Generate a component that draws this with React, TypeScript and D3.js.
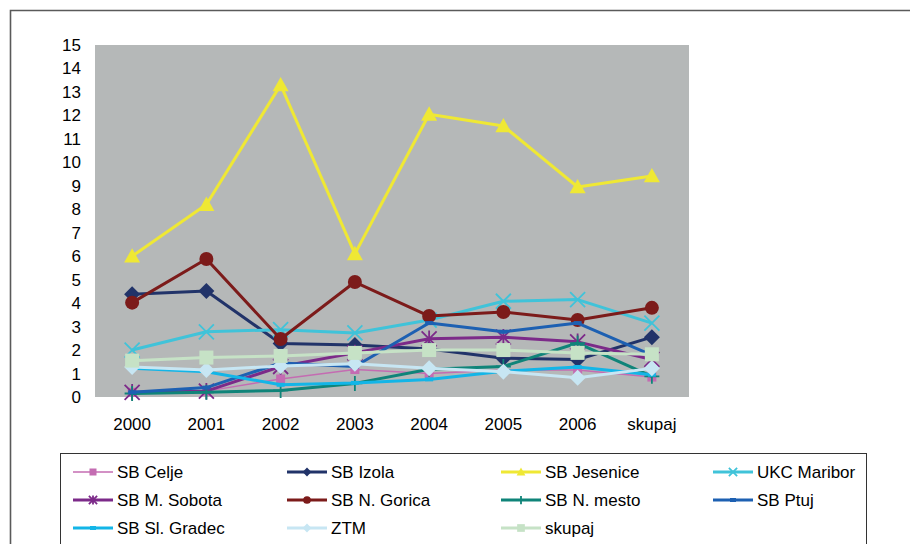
import React from "react";
import * as d3 from "d3";

const years = ["2000", "2001", "2002", "2003", "2004", "2005", "2006", "skupaj"];
const yTicks = d3.range(0, 16);

const celje = [0.2, 0.25, 0.77, 1.17, 1.0, 1.15, 1.15, 0.85];
const izola = [4.38, 4.52, 2.28, 2.22, 2.05, 1.65, 1.6, 2.55];
const jesenice = [6.0, 8.2, 13.3, 6.1, 12.05, 11.55, 8.95, 9.42];
const maribor = [2.0, 2.78, 2.87, 2.73, 3.28, 4.08, 4.15, 3.15];
const sobota = [0.2, 0.25, 1.3, 1.88, 2.48, 2.55, 2.35, 1.6];
const gorica = [4.02, 5.88, 2.47, 4.9, 3.45, 3.62, 3.28, 3.8];
const mesto = [0.15, 0.2, 0.28, 0.58, 1.18, 1.3, 2.3, 0.88];
const ptuj = [0.2, 0.4, 1.45, 1.3, 3.15, 2.78, 3.15, 1.78];
const gradec = [1.22, 1.08, 0.52, 0.6, 0.75, 1.1, 1.28, 0.95];
const ztm = [1.28, 1.15, 1.32, 1.42, 1.23, 1.08, 0.82, 1.22];
const skupaj = [1.55, 1.68, 1.75, 1.88, 2.0, 2.0, 1.88, 1.82];

type Marker = "square" | "diamond" | "triangle" | "x" | "asterisk" | "circle" | "plus" | "dash";
interface Series {
  name: string;
  values: number[];
  color: string;
  marker: Marker;
  width: number;
  size: number;
}

const series: Series[] = [
  { name: "SB Celje", values: celje, color: "#c46cb2", marker: "square", width: 1.5, size: 4.5 },
  { name: "SB Izola", values: izola, color: "#213369", marker: "diamond", width: 3, size: 8 },
  { name: "SB Jesenice", values: jesenice, color: "#efe834", marker: "triangle", width: 3, size: 8 },
  { name: "UKC Maribor", values: maribor, color: "#40c3d9", marker: "x", width: 3, size: 7.5 },
  { name: "SB M. Sobota", values: sobota, color: "#7c2a89", marker: "asterisk", width: 3, size: 7.5 },
  { name: "SB N. Gorica", values: gorica, color: "#7c1b1a", marker: "circle", width: 3, size: 7 },
  { name: "SB N. mesto", values: mesto, color: "#0f8479", marker: "plus", width: 3, size: 7.5 },
  { name: "SB Ptuj", values: ptuj, color: "#1d60b2", marker: "dash", width: 3, size: 4 },
  { name: "SB Sl. Gradec", values: gradec, color: "#13b5e7", marker: "dash", width: 3, size: 4 },
  { name: "ZTM", values: ztm, color: "#c7e6f3", marker: "diamond", width: 3, size: 8 },
  { name: "skupaj", values: skupaj, color: "#c6e2c6", marker: "square", width: 3, size: 7 },
];

const FONT = "'Liberation Sans', Arial, sans-serif";

const plot = { left: 95, right: 689, top: 45, bottom: 397 };

function MarkerShape({ type, x, y, s, color }: { type: Marker; x: number; y: number; s: number; color: string }) {
  switch (type) {
    case "square":
      return <rect x={x - s} y={y - s} width={2 * s} height={2 * s} fill={color} />;
    case "diamond":
      return <path d={`M${x},${y - s}L${x + s},${y}L${x},${y + s}L${x - s},${y}Z`} fill={color} />;
    case "triangle":
      return <path d={`M${x},${y - s}L${x + s},${y + s * 0.8}L${x - s},${y + s * 0.8}Z`} fill={color} />;
    case "circle":
      return <circle cx={x} cy={y} r={s} fill={color} />;
    case "x":
      return (
        <path d={`M${x - s},${y - s}L${x + s},${y + s}M${x - s},${y + s}L${x + s},${y - s}`} stroke={color} strokeWidth={1.8} />
      );
    case "asterisk":
      return (
        <path
          d={`M${x - s},${y - s}L${x + s},${y + s}M${x - s},${y + s}L${x + s},${y - s}M${x},${y - s * 1.1}L${x},${y + s * 1.1}`}
          stroke={color}
          strokeWidth={1.8}
        />
      );
    case "plus":
      return <path d={`M${x},${y - s}L${x},${y + s}M${x - s},${y}L${x + s},${y}`} stroke={color} strokeWidth={1.8} />;
    case "dash":
      return <path d={`M${x - s},${y}L${x + s},${y}`} stroke={color} strokeWidth={4} />;
  }
}

export default function App() {
  const x = d3.scalePoint<string>().domain(years).range([plot.left, plot.right]).padding(0.5);
  const y = d3.scaleLinear().domain([0, 15]).range([plot.bottom, plot.top]);
  const line = d3
    .line<number>()
    .x((_, i) => x(years[i]) as number)
    .y((v) => y(v));

  const legendCols = [73, 287, 501, 713];
  const legendRows = [472, 500, 528];

  return (
    <svg
      width={910}
      height={544}
      style={{ position: "absolute", left: 0, top: 0, background: "#fff" }}
      fontFamily={FONT}
    >
      {/* outer frame */}
      <path d="M10.5,544V10.5H912" fill="none" stroke="#5a5a5a" strokeWidth={1.6} />

      {/* plot area */}
      <rect x={plot.left} y={plot.top} width={plot.right - plot.left} height={plot.bottom - plot.top} fill="#b5b8b8" />

      {/* y axis labels */}
      {yTicks.map((t) => (
        <text key={t} x={81} y={y(t) + 6} textAnchor="end" fontSize={17} fill="#000">
          {t}
        </text>
      ))}

      {/* x axis labels */}
      {years.map((yr) => (
        <text key={yr} x={x(yr)} y={430} textAnchor="middle" fontSize={17} fill="#000">
          {yr}
        </text>
      ))}

      {/* series */}
      {series.map((s) => (
        <g key={s.name}>
          <path d={line(s.values) as string} fill="none" stroke={s.color} strokeWidth={s.width} strokeLinejoin="round" />
          {s.values.map((v, i) => (
            <MarkerShape key={i} type={s.marker} x={x(years[i]) as number} y={y(v)} s={s.size} color={s.color} />
          ))}
        </g>
      ))}

      {/* legend */}
      <rect x={60.5} y={453.5} width={806} height={100} fill="#fff" stroke="#333" strokeWidth={1} />
      {series.map((s, i) => {
        const cx = legendCols[i % 4];
        const cy = legendRows[Math.floor(i / 4)];
        const ms = s.marker === "dash" ? 3 : Math.max(3.5, s.size * 0.55);
        return (
          <g key={s.name}>
            <line x1={cx} x2={cx + 40} y1={cy} y2={cy} stroke={s.color} strokeWidth={s.width} />
            <MarkerShape type={s.marker} x={cx + 20} y={cy} s={ms} color={s.color} />
            <text x={cx + 44} y={cy + 6} fontSize={17} fill="#000">
              {s.name}
            </text>
          </g>
        );
      })}
    </svg>
  );
}
